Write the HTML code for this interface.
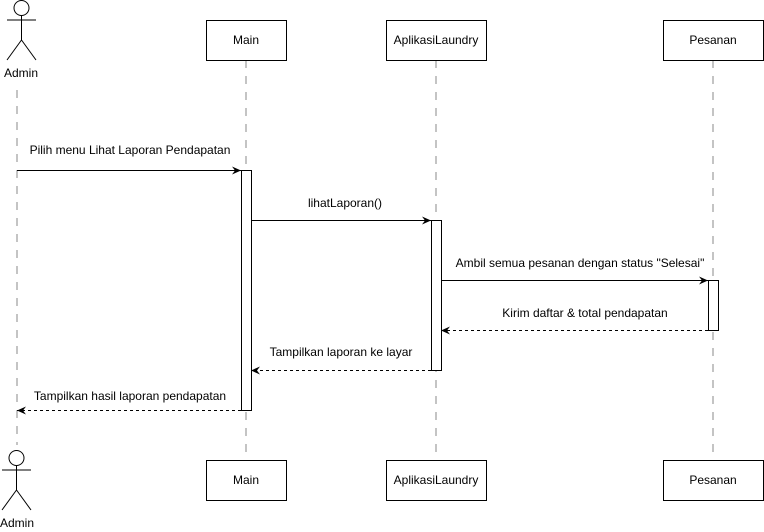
<!DOCTYPE html>
<html><head><style>
body{margin:0;background:#fff;}
svg{display:block;font-family:"Liberation Sans",sans-serif;font-size:12px;}
</style></head><body>
<svg width="764" height="532" viewBox="0 0 764 532" xmlns="http://www.w3.org/2000/svg">
<defs>
<marker id="a" markerWidth="10" markerHeight="8" refX="9" refY="4" orient="auto" markerUnits="userSpaceOnUse"><path d="M0,0 L9,4 L0,8 L3,4 Z" fill="#000"/></marker>
</defs>
<g stroke="#000" stroke-width="1" fill="none">
<!-- lifelines -->
<g stroke-dasharray="8,8" stroke="#888">
<line x1="17" y1="90" x2="17" y2="445"/>
<line x1="246" y1="60" x2="246" y2="460"/>
<line x1="436" y1="60" x2="436" y2="460"/>
<line x1="713" y1="60" x2="713" y2="460"/>
</g>
<!-- top actor -->
<circle cx="21.5" cy="8" r="7.5" fill="#fff"/>
<line x1="21.5" y1="15.5" x2="21.5" y2="40"/>
<line x1="7" y1="20" x2="36" y2="20"/>
<line x1="21.5" y1="40" x2="7" y2="60"/>
<line x1="21.5" y1="40" x2="36" y2="60"/>
<!-- bottom actor -->
<circle cx="16.5" cy="458" r="7.5" fill="#fff"/>
<line x1="16.5" y1="465.5" x2="16.5" y2="490"/>
<line x1="2" y1="470" x2="31" y2="470"/>
<line x1="16.5" y1="490" x2="2" y2="510"/>
<line x1="16.5" y1="490" x2="31" y2="510"/>
<!-- boxes -->
<rect x="206.5" y="20.5" width="80" height="40" fill="#fff"/>
<rect x="386.5" y="20.5" width="100" height="40" fill="#fff"/>
<rect x="663.5" y="20.5" width="100" height="40" fill="#fff"/>
<rect x="206.5" y="460.5" width="80" height="40" fill="#fff"/>
<rect x="386.5" y="460.5" width="100" height="40" fill="#fff"/>
<rect x="663.5" y="460.5" width="100" height="40" fill="#fff"/>
<!-- activations -->
<rect x="241.5" y="170.5" width="10" height="240" fill="#fff"/>
<rect x="431.5" y="220.5" width="10" height="150" fill="#fff"/>
<rect x="708.5" y="280.5" width="10" height="50" fill="#fff"/>
<!-- messages -->
<line x1="17" y1="170.5" x2="241" y2="170.5" marker-end="url(#a)"/>
<line x1="251" y1="220.5" x2="431" y2="220.5" marker-end="url(#a)"/>
<line x1="441" y1="280.5" x2="708" y2="280.5" marker-end="url(#a)"/>
<g stroke-dasharray="3,3">
<line x1="708" y1="330.5" x2="441" y2="330.5" marker-end="url(#a)"/>
<line x1="431" y1="370.5" x2="251" y2="370.5" marker-end="url(#a)"/>
<line x1="241" y1="410.5" x2="17" y2="410.5" marker-end="url(#a)"/>
</g>
</g>
<g fill="#000" text-anchor="middle">
<text x="21" y="77">Admin</text>
<text x="17" y="527">Admin</text>
<text x="246" y="44">Main</text>
<text x="436" y="44">AplikasiLaundry</text>
<text x="713" y="44">Pesanan</text>
<text x="246" y="484">Main</text>
<text x="436" y="484">AplikasiLaundry</text>
<text x="713" y="484">Pesanan</text>
<text x="130" y="154">Pilih menu Lihat Laporan Pendapatan</text>
<text x="345" y="207">lihatLaporan()</text>
<text x="580" y="267">Ambil semua pesanan dengan status "Selesai"</text>
<text x="585" y="317">Kirim daftar &amp; total pendapatan</text>
<text x="341" y="356">Tampilkan laporan ke layar</text>
<text x="130" y="400">Tampilkan hasil laporan pendapatan</text>
</g>
</svg>
</body></html>
